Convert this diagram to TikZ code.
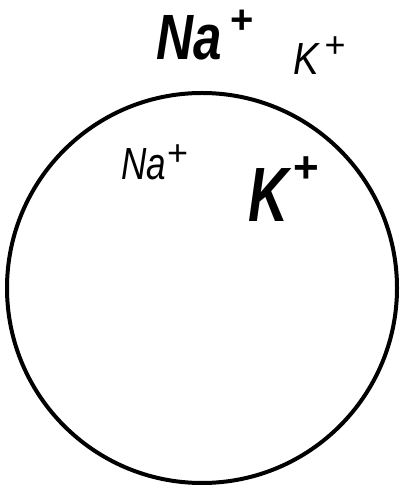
\documentclass[tikz,border=0pt]{standalone}
\usepackage{fontspec}
\setmainfont{Liberation Sans}
% narrow letters plus a raised charge sign
\newcommand{\ionlabel}[5]{\scalebox{#1}[1]{#2}\hspace{#3}\raisebox{#4}{\fontsize{#5}{#5}\selectfont\upshape +}}
\begin{document}
\begin{tikzpicture}[
    x=1pt, y=1pt,
    ion/.style={inner sep=0pt, anchor=base west},
    bigion/.style={ion, font=\bfseries\itshape\fontsize{64}{64}\selectfont},
    smallion/.style={ion, font=\itshape\fontsize{45}{45}\selectfont},
    membrane/.style={circle, draw, line width=4pt, minimum size=390pt, inner sep=0pt},
]
\useasboundingbox (0,0) rectangle (399,489);

% Cell
\node[membrane] (cell) at (202,201) {};

% Outside
\node[bigion] (naout) at (156,429) {\ionlabel{0.8}{Na}{9pt}{26pt}{40}};
\node[smallion] (kout) at (293,414) {\ionlabel{0.85}{K}{6pt}{17pt}{36}};

% Inside
\node[smallion] (nain) at (121,309) {\ionlabel{0.78}{Na}{1pt}{14pt}{36}};
\node[bigion, font=\bfseries\itshape\fontsize{77}{77}\selectfont] (kin) at (248,267) {\ionlabel{0.72}{K}{5pt}{39pt}{44}};

\end{tikzpicture}
\end{document}
